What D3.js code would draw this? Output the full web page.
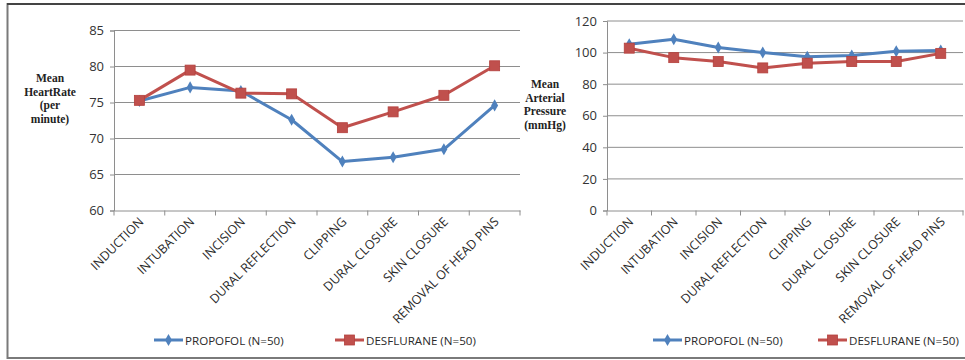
<!DOCTYPE html>
<html>
<head>
<meta charset="utf-8">
<script src="https://cdn.jsdelivr.net/npm/d3@7"></script>
<style>
  html, body { margin: 0; padding: 0; background: #fff; }
  svg { display: block; }
</style>
</head>
<body>
<svg id="chart" width="965" height="360"></svg>
<script>
const categories = ["INDUCTION", "INTUBATION", "INCISION", "DURAL REFLECTION", "CLIPPING", "DURAL CLOSURE", "SKIN CLOSURE", "REMOVAL OF HEAD PINS"];
const seriesNames = ["PROPOFOL (N=50)", "DESFLURANE (N=50)"];
const hrPropofol = [75.2, 77.1, 76.6, 72.6, 66.8, 67.4, 68.5, 74.6];
const hrDesflurane = [75.3, 79.5, 76.3, 76.2, 71.5, 73.7, 76.0, 80.1];
const mapPropofol = [105.3, 108.5, 103.2, 100.0, 97.3, 98.2, 100.8, 101.3];
const mapDesflurane = [102.8, 96.8, 94.3, 90.3, 93.3, 94.3, 94.3, 99.5];
const hrTicks = [60, 65, 70, 75, 80, 85];
const mapTicks = [0, 20, 40, 60, 80, 100, 120];
const hrTitle = ["Mean", "HeartRate", "(per", "minute)"];
const mapTitle = ["Mean", "Arterial", "Pressure", "(mmHg)"];

const colors = ["#4F81BD", "#C0504D"];
const svg = d3.select("#chart");

// outer frame
svg.append("rect").attr("x", 7.5).attr("y", 4).attr("width", 970).attr("height", 354)
  .attr("fill", "none").attr("stroke", "#7a7a7a").attr("stroke-width", 2);
svg.append("line").attr("x1", 7).attr("x2", 965).attr("y1", 4).attr("y2", 4)
  .attr("stroke", "#333").attr("stroke-width", 1.5);

function marker(g, type, color, x, y) {
  if (type === 0) {
    g.append("path").attr("d", d3.symbol().type(d3.symbolDiamond).size(42)())
      .attr("transform", `translate(${x},${y})`).attr("fill", color);
  } else {
    g.append("rect").attr("x", x - 5).attr("y", y - 5).attr("width", 10).attr("height", 10)
      .attr("fill", color).attr("stroke", "#b4403d").attr("stroke-width", 0.8);
  }
}

function drawPanel(opts) {
  const g = svg.append("g");
  const x = d3.scaleBand().domain(categories).range([opts.x0, opts.x1]);
  const y = d3.scaleLinear().domain(opts.domain).range([opts.yb, opts.yt]);

  // gridlines
  g.selectAll(".grid").data(opts.ticks.filter(t => t !== opts.domain[0])).enter().append("line")
    .attr("x1", opts.x0).attr("x2", opts.x1)
    .attr("y1", d => y(d)).attr("y2", d => y(d))
    .attr("stroke", "#8e8e8e").attr("stroke-width", 1);

  // y axis
  const ya = g.append("g").attr("transform", `translate(${opts.x0},0)`)
    .call(d3.axisLeft(y).tickValues(opts.ticks).tickSize(4).tickPadding(6));
  ya.select(".domain").attr("stroke", "#8e8e8e");
  ya.selectAll(".tick line").attr("stroke", "#8e8e8e");
  ya.selectAll("text").attr("font-family", "'Open Sans', 'Liberation Sans', sans-serif")
    .attr("font-size", 13).attr("fill", "#333");

  // x axis
  const xa = g.append("g").attr("transform", `translate(0,${opts.yb})`)
    .call(d3.axisBottom(x).tickSize(0).tickFormat(""));
  xa.select(".domain").attr("stroke", "#8e8e8e");
  const tickPos = categories.map(c => x(c)).concat([opts.x1]);
  g.selectAll(".xt").data(tickPos).enter().append("line")
    .attr("x1", d => d).attr("x2", d => d)
    .attr("y1", opts.yb).attr("y2", opts.yb + 5)
    .attr("stroke", "#8e8e8e");
  g.selectAll(".xl").data(categories).enter().append("text")
    .attr("transform", d => `translate(${x(d) + x.bandwidth() / 2 + 5},${opts.yb + 12}) rotate(-45)`)
    .attr("text-anchor", "end")
    .attr("font-family", "'Open Sans', 'Liberation Sans', sans-serif")
    .attr("font-size", 12.5).attr("fill", "#2a2a2a")
    .text(d => d);

  // lines
  const cx = c => x(c) + x.bandwidth() / 2;
  const line = d3.line().x((d, i) => cx(categories[i])).y(d => y(d));
  opts.series.forEach((s, si) => {
    g.append("path").datum(s).attr("d", line).attr("fill", "none")
      .attr("stroke", colors[si]).attr("stroke-width", 3).attr("stroke-linejoin", "round");
  });
  opts.series.forEach((s, si) => {
    s.forEach((v, i) => marker(g, si, colors[si], cx(categories[i]), y(v)));
  });

  // y title
  const t = g.append("text").attr("text-anchor", "middle")
    .attr("font-family", "'Liberation Serif', 'DejaVu Serif', serif")
    .attr("font-weight", "bold").attr("font-size", 11.5).attr("fill", "#222");
  opts.title.forEach((l, i) => {
    t.append("tspan").attr("x", opts.titleX).attr("y", opts.titleY + i * 13.7).text(l);
  });

  // legend
  opts.legend.forEach((lx, si) => {
    const ly = 340;
    g.append("line").attr("x1", lx).attr("x2", lx + 29).attr("y1", ly).attr("y2", ly)
      .attr("stroke", colors[si]).attr("stroke-width", 3);
    marker(g, si, colors[si], lx + 14.5, ly);
    g.append("text").attr("x", lx + 31).attr("y", ly + 4.5)
      .attr("font-family", "'Open Sans', 'Liberation Sans', sans-serif")
      .attr("font-size", 11.6).attr("fill", "#2a2a2a")
      .text(seriesNames[si]);
  });
}

drawPanel({
  x0: 114, x1: 520, yb: 210.5, yt: 30.5, domain: [60, 85], ticks: hrTicks,
  series: [hrPropofol, hrDesflurane], title: hrTitle, titleX: 50, titleY: 82,
  legend: [154, 335]
});
drawPanel({
  x0: 607, x1: 963, yb: 210.5, yt: 21, domain: [0, 120], ticks: mapTicks,
  series: [mapPropofol, mapDesflurane], title: mapTitle, titleX: 545, titleY: 88,
  legend: [653, 818]
});
</script>
</body>
</html>
